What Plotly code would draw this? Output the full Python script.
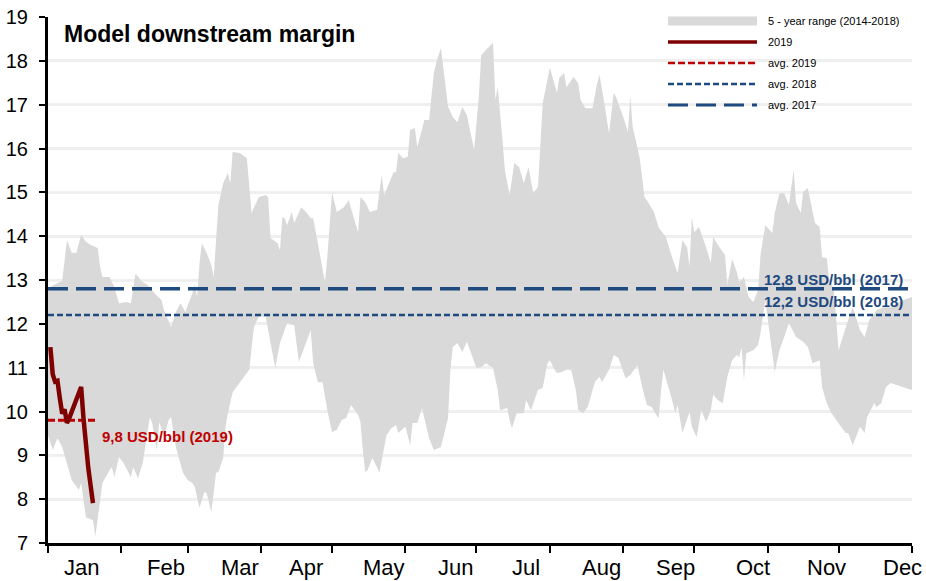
import plotly.graph_objects as go

# ---- data -------------------------------------------------------------
# 5-year range (2014-2018) of the model downstream margin, USD/bbl, by day of year
range_upper_days = [0, 1, 4, 6, 8, 10, 12, 14, 16, 18, 21, 22, 23, 26, 28, 30, 33, 35, 37, 40,
                    42, 45, 48, 49, 52, 54, 56, 58, 61, 62, 63, 64, 65, 67, 69, 70, 71, 72, 74, 76,
                    77, 78, 81, 84, 86, 89, 92, 93, 94, 97, 98, 99, 100, 101, 103, 104, 107, 109, 111, 112,
                    114, 117, 118, 120, 122, 125, 127, 129, 131, 132, 134, 136, 139, 141, 142, 146, 147, 148, 150, 152,
                    153, 155, 156, 159, 161, 163, 164, 166, 169, 171, 173, 175, 177, 178, 180, 182, 183, 185, 188, 189,
                    190, 192, 193, 195, 197, 199, 201, 203, 205, 207, 209, 212, 215, 216, 218, 219, 222, 224, 225, 227,
                    230, 232, 233, 235, 237, 239, 240, 243, 245, 246, 247, 250, 252, 253, 256, 258, 261, 264, 266, 268,
                    270, 271, 272, 273, 275, 278, 280, 281, 283, 286, 287, 289, 291, 292, 294, 296, 298, 300, 301, 303,
                    304, 306, 307, 309, 311, 313, 315, 316, 318, 319, 321, 322, 324, 326, 327, 329, 330, 332, 334, 338,
                    340, 343, 345, 347, 350, 353, 356, 359, 361, 365]
range_upper = [12.77, 12.84, 12.93, 12.98, 13.91, 13.62, 13.62, 14.03, 13.87, 13.80, 13.73, 13.30, 13.07, 13.07, 12.84, 12.47, 12.50, 12.47, 13.14, 12.95,
               12.89, 12.70, 12.54, 12.31, 11.93, 12.27, 12.47, 12.27, 12.70, 12.90, 12.61, 13.39, 13.84, 13.62, 13.34, 13.07, 13.91, 14.71, 15.21, 15.44,
               15.21, 15.92, 15.90, 15.78, 14.53, 14.89, 14.94, 14.89, 13.96, 13.84, 13.68, 14.44, 14.41, 14.25, 14.55, 14.30, 14.66, 14.55, 14.41, 14.41,
               13.84, 12.95, 13.52, 15.01, 14.55, 14.66, 14.82, 14.44, 14.09, 14.89, 14.78, 14.55, 14.60, 15.40, 14.94, 15.46, 15.46, 15.90, 15.78, 15.81,
               16.42, 16.47, 16.03, 16.65, 16.65, 17.72, 17.95, 18.29, 16.95, 16.72, 16.60, 16.95, 16.76, 16.49, 15.97, 17.17, 18.13, 18.25, 18.41, 17.11,
               17.40, 16.19, 15.51, 14.94, 15.67, 15.58, 15.21, 15.58, 14.98, 15.12, 17.04, 17.84, 17.27, 17.61, 17.72, 17.40, 17.63, 17.49, 17.11, 16.92,
               16.92, 17.49, 17.68, 17.04, 16.35, 17.27, 17.17, 16.72, 16.38, 17.20, 16.49, 15.78, 14.89, 14.82, 14.55, 14.19, 13.98, 13.46, 13.16, 13.91,
               13.75, 13.30, 14.44, 14.09, 14.21, 13.75, 13.39, 13.98, 13.80, 13.57, 12.89, 13.48, 13.18, 12.95, 13.07, 12.61, 12.50, 12.77, 13.57, 14.25,
               14.19, 14.07, 14.53, 14.98, 14.98, 14.71, 15.51, 14.76, 14.53, 15.01, 15.10, 14.82, 14.30, 14.21, 13.52, 13.50, 13.00, 12.77, 11.40, 12.09,
               12.38, 11.86, 11.70, 12.09, 12.31, 12.38, 12.38, 12.47, 12.54, 12.61]

range_lower_days = [0, 2, 4, 6, 8, 10, 13, 14, 16, 19, 20, 21, 23, 26, 27, 28, 30, 32, 33, 35,
                    36, 38, 40, 41, 43, 44, 46, 47, 49, 51, 52, 54, 57, 59, 61, 62, 64, 66, 67, 69,
                    71, 72, 74, 75, 76, 78, 81, 85, 87, 89, 92, 93, 96, 98, 101, 104, 106, 109, 111, 112,
                    114, 116, 118, 120, 122, 124, 126, 128, 131, 132, 133, 134, 135, 137, 139, 140, 143, 145, 147, 148,
                    151, 153, 154, 156, 158, 161, 163, 166, 169, 170, 171, 173, 175, 177, 179, 181, 183, 185, 188, 190,
                    191, 194, 195, 196, 198, 201, 202, 204, 207, 209, 211, 212, 214, 215, 217, 219, 221, 223, 224, 226,
                    228, 231, 233, 234, 237, 239, 241, 242, 244, 246, 249, 251, 253, 255, 257, 258, 259, 260, 262, 264,
                    265, 266, 268, 269, 271, 272, 274, 276, 278, 280, 281, 283, 285, 287, 289, 291, 292, 293, 294, 295,
                    298, 300, 301, 303, 304, 306, 307, 309, 311, 313, 316, 319, 321, 323, 326, 327, 329, 331, 333, 335,
                    337, 338, 340, 343, 345, 346, 349, 350, 352, 354, 356, 359, 361, 365]
range_lower = [9.46, 9.12, 9.39, 9.19, 8.82, 8.44, 8.21, 8.37, 7.59, 7.52, 7.14, 7.48, 8.37, 8.66, 8.73, 8.50, 8.96, 8.82, 8.73, 8.50,
               8.73, 8.48, 8.82, 9.12, 9.87, 9.74, 9.12, 9.76, 9.42, 9.81, 9.87, 9.19, 8.60, 8.44, 8.37, 8.28, 7.80, 8.16, 8.14, 7.71,
               8.60, 8.62, 8.94, 9.65, 9.96, 10.44, 10.65, 10.95, 11.93, 12.16, 12.16, 11.86, 10.99, 11.56, 12.02, 11.97, 11.13, 11.56, 11.86, 11.11,
               10.67, 10.67, 10.03, 9.53, 9.58, 9.80, 9.85, 10.15, 9.92, 9.76, 9.12, 8.62, 8.66, 8.94, 8.73, 8.60, 9.46, 9.62, 9.69, 9.51,
               9.65, 9.23, 9.74, 9.74, 10.08, 9.39, 9.12, 9.19, 9.85, 10.95, 11.47, 11.56, 11.36, 11.59, 11.29, 10.99, 11.01, 11.10, 10.99, 10.49,
               10.03, 10.08, 9.80, 9.62, 9.96, 9.96, 10.26, 10.03, 10.49, 10.54, 11.10, 11.17, 10.95, 10.88, 10.90, 10.95, 10.95, 10.49, 10.03, 9.96,
               10.10, 10.67, 10.79, 10.67, 10.95, 11.29, 11.22, 11.10, 10.76, 10.83, 11.06, 10.56, 10.15, 10.10, 9.92, 9.85, 10.49, 10.95, 10.60, 10.19,
               9.96, 10.15, 9.51, 9.69, 9.99, 9.65, 9.42, 10.03, 9.76, 10.03, 10.38, 10.26, 10.19, 10.79, 11.17, 11.29, 11.24, 11.47, 10.72, 11.33,
               11.40, 11.52, 11.79, 12.54, 12.09, 11.33, 10.90, 11.40, 11.70, 12.02, 11.70, 11.59, 11.47, 11.10, 11.17, 10.56, 10.19, 9.96, 9.80, 9.65,
               9.51, 9.51, 9.23, 9.65, 9.51, 9.87, 10.19, 10.10, 10.19, 10.56, 10.65, 10.60, 10.56, 10.49]

# 2019 so far
days_2019 = [1, 2, 3, 4, 5, 6, 7, 8, 9, 13, 14, 15, 16, 17, 18, 19]
margin_2019 = [11.47, 10.85, 10.68, 10.70, 10.30, 9.95, 10.05, 9.74, 9.85, 10.48, 10.56, 9.84, 9.12, 8.72, 8.31, 7.91]

# yearly averages, USD/bbl
avg_2019 = 9.8
avg_2018 = 12.2
avg_2017 = 12.8

# x axis: day of year
month_starts = [0, 31, 59, 90, 120, 151, 181, 212, 243, 273, 304, 334, 365]
month_names = ["Jan", "Feb", "Mar", "Apr", "May", "Jun", "Jul", "Aug", "Sep", "Oct", "Nov", "Dec"]
month_label_days = [14, 50, 81, 109, 142, 172, 202, 234, 265, 298, 329, 361]

# ---- styles -------------------------------------------------------------
BAND = "#D9D9D9"
DARK_RED = "#7F0000"
RED = "#C00000"
BLUE = "#1F4A7F"
FONT = "Liberation Sans, Arial, sans-serif"

fig = go.Figure()

# shaded 5-year range
fig.add_trace(go.Scatter(
    x=range_upper_days + range_lower_days[::-1],
    y=range_upper + range_lower[::-1],
    fill="toself", fillcolor=BAND, mode="lines",
    line=dict(width=0, color=BAND), hoverinfo="skip", showlegend=False))

# average lines
fig.add_trace(go.Scatter(x=[0, 365], y=[avg_2017, avg_2017], mode="lines",
                         line=dict(color=BLUE, width=3.3, dash="20px,8px"), showlegend=False))
fig.add_trace(go.Scatter(x=[0, 365], y=[avg_2018, avg_2018], mode="lines",
                         line=dict(color=BLUE, width=2.6, dash="6px,3px"), showlegend=False))
fig.add_trace(go.Scatter(x=[0, days_2019[-1] + 1], y=[avg_2019, avg_2019], mode="lines",
                         line=dict(color=RED, width=3, dash="7px,3px"), showlegend=False))

# 2019 margin
fig.add_trace(go.Scatter(x=days_2019, y=margin_2019, mode="lines",
                         line=dict(color=DARK_RED, width=4.5), showlegend=False))

annotations = []

# title
annotations.append(dict(xref="paper", yref="paper", x=0.0162, y=0.968, xanchor="left", yanchor="middle",
                        text="<b>Model downstream margin</b>", showarrow=False,
                        font=dict(family=FONT, size=23, color="black")))

# value labels
annotations.append(dict(x=days_2019[-1] + 3, y=avg_2019, xref="x", yref="y", xanchor="left", yanchor="middle",
                        yshift=-16, text="<b>9,8 USD/bbl (2019)</b>", showarrow=False,
                        font=dict(family=FONT, size=15, color=RED)))
annotations.append(dict(x=362, y=avg_2017, xref="x", yref="y", xanchor="right", yanchor="bottom",
                        yshift=-1, text="<b>12,8 USD/bbl (2017)</b>", showarrow=False,
                        font=dict(family=FONT, size=15, color=BLUE)))
annotations.append(dict(x=362, y=avg_2018, xref="x", yref="y", xanchor="right", yanchor="bottom",
                        yshift=3, text="<b>12,2 USD/bbl (2018)</b>", showarrow=False,
                        font=dict(family=FONT, size=15, color=BLUE)))

# month labels
for d, m in zip(month_label_days, month_names):
    annotations.append(dict(x=d, y=0, xref="x", yref="paper", xanchor="center", yanchor="top",
                            yshift=-10, text=m, showarrow=False,
                            font=dict(family=FONT, size=22, color="black")))

# key in the top-right corner
L, T, R, B = 48, 17, 14, 38
W, H = 926 - L - R, 581 - T - B


def px(xp):
    return (xp - L) / W


def py(yp):
    return (H + T - yp) / H


legend_rows = [
    ("5 - year range (2014-2018)", dict(kind="box")),
    ("2019", dict(kind="line", color=DARK_RED, width=3.5, dash="solid")),
    ("avg. 2019", dict(kind="line", color=RED, width=2.5, dash="7px,3px")),
    ("avg. 2018", dict(kind="line", color=BLUE, width=2.5, dash="6px,3px")),
    ("avg. 2017", dict(kind="line", color=BLUE, width=3, dash="20px,8px")),
]
shapes = []
for i, (label, sty) in enumerate(legend_rows):
    yc = 21 + i * 21
    if sty["kind"] == "box":
        shapes.append(dict(type="rect", xref="paper", yref="paper", x0=px(668), x1=px(757),
                           y0=py(yc + 4.5), y1=py(yc - 4.5), fillcolor=BAND, line=dict(width=0)))
    else:
        shapes.append(dict(type="line", xref="paper", yref="paper", x0=px(668), x1=px(757),
                           y0=py(yc), y1=py(yc), line=dict(color=sty["color"], width=sty["width"], dash=sty["dash"])))
    annotations.append(dict(xref="paper", yref="paper", x=px(766), y=py(yc), xanchor="left", yanchor="middle",
                            text=label, showarrow=False, font=dict(family=FONT, size=11, color="black")))

fig.update_layout(
    width=926, height=581,
    margin=dict(l=L, r=R, t=T, b=B, pad=0),
    paper_bgcolor="white", plot_bgcolor="white",
    showlegend=False,
    annotations=annotations, shapes=shapes,
    xaxis=dict(range=[0, 365], tickmode="array", tickvals=month_starts, ticktext=[""] * len(month_starts),
               ticks="outside", ticklen=7, tickwidth=2, tickcolor="black", automargin=False,
               showline=True, linecolor="black", linewidth=3, showgrid=False, zeroline=False),
    yaxis=dict(range=[7, 19], tickmode="linear", tick0=7, dtick=1, automargin=False,
               ticks="outside", ticklen=6, tickwidth=2, tickcolor="black", ticklabelstandoff=7,
               showline=True, linecolor="black", linewidth=3,
               showgrid=True, gridcolor="#EFEFEF", gridwidth=3, zeroline=False,
               tickfont=dict(family=FONT, size=20, color="black")),
)

fig.write_html("out.html")
